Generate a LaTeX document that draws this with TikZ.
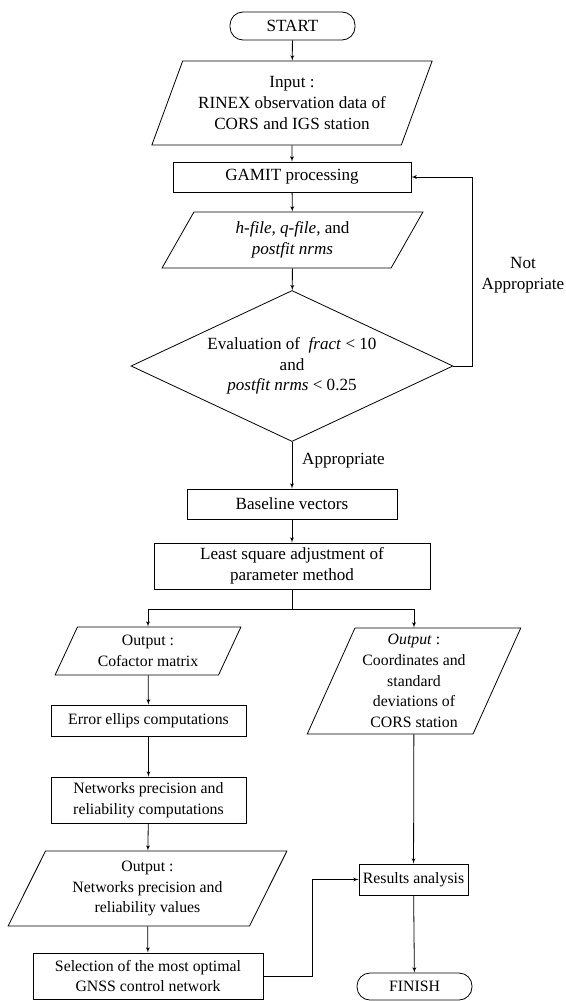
\documentclass[tikz,border=0pt]{standalone}
\usepackage{fontspec}
\setmainfont{Liberation Serif}
\usetikzlibrary{shapes,arrows}

\begin{document}
\begin{tikzpicture}[x=1pt, y=-1pt, auto,
    font=\fontsize{17.1}{20.7}\selectfont,
    text_small/.style ={font=\fontsize{15.8}{20.7}\selectfont},
    block_center/.style ={rectangle, draw=black, line width=0.8pt, fill=white,
      align=center, inner sep=2pt},
    block_io/.style ={trapezium, trapezium left angle=64, trapezium right angle=116,
      trapezium stretches=true, draw=black, line width=0.8pt, fill=white,
      align=center, inner sep=1pt},
    block_terminal/.style ={rectangle, rounded corners=13pt, draw=black,
      line width=0.8pt, fill=white, align=center, inner sep=2pt},
    block_decision/.style ={diamond, aspect=2.13, draw=black, line width=0.8pt,
      fill=white, align=center, inner sep=-4pt},
    block_noborder/.style ={rectangle, draw=none, fill=none, align=center, inner sep=0pt},
    line/.style ={draw, line width=0.8pt, -latex', shorten >=0pt}]
    \useasboundingbox (0,0) rectangle (565,1001);
    % main column
    \node [block_terminal, minimum width=125pt, minimum height=28pt] (start) at (292.5,26) {START};
    \node [block_io, minimum width=281pt, minimum height=84pt] (input) at (292,103)
      {Input :\\ RINEX observation data of\\ CORS and IGS station};
    \node [block_center, minimum width=238pt, minimum height=30pt] (gamit) at (292,177) {GAMIT processing};
    \node [block_io, minimum width=261pt, minimum height=56pt] (hfile) at (292.5,240)
      {\textit{h-file, q-file,} and\\ \textit{postfit nrms}};
    \node [block_decision, minimum width=322pt, minimum height=151pt] (eval) at (292,366)
      {Evaluation of \ \textit{fract} < 10\\ and\\ \textit{postfit nrms} < 0.25};
    \node [block_noborder] (notappropriate) at (523,275) {Not\\ Appropriate};
    \node [block_noborder, anchor=west] (appropriate) at (302,461) {Appropriate};
    \node [block_center, minimum width=210pt, minimum height=30pt] (baseline) at (292,504) {Baseline vectors};
    \node [block_center, minimum width=276pt, minimum height=46pt] (lsq) at (292,566)
      {Least square adjustment of\\ parameter method};
    \coordinate (split) at (292,609);
    % left column
    \node [block_io, text_small, minimum width=186pt, minimum height=48pt] (cofactor) at (148,651)
      {Output :\\ Cofactor matrix};
    \node [block_center, text_small, minimum width=195pt, minimum height=31pt] (ellips) at (148.5,720.5)
      {Error ellips computations};
    \node [block_center, text_small, minimum width=195pt, minimum height=46pt] (netcomp) at (148.5,800)
      {Networks precision and\\ reliability computations};
    \node [block_io, text_small, minimum width=279pt, minimum height=75pt] (netvalues) at (147.5,888.5)
      {Output :\\ Networks precision and\\ reliability values};
    \node [block_center, text_small, minimum width=230pt, minimum height=46pt] (selection) at (148,976)
      {Selection of the most optimal\\ GNSS control network};
    % right column
    \node [block_io, text_small, trapezium left angle=66, trapezium right angle=114,
      minimum width=214pt, minimum height=106pt] (coords) at (414,681)
      {\textit{Output} :\\ Coordinates and\\ standard\\ deviations of\\ CORS station};
    \node [block_center, text_small, minimum width=109pt, minimum height=31pt] (results) at (413.5,879.5)
      {Results analysis};
    \node [block_terminal, text_small, minimum width=115pt, minimum height=27pt] (finish) at (414.5,986.5) {FINISH};
    % connecting nodes with paths
    \begin{scope}[every path/.style=line]
      \path (start) -- (input);
      \path (input) -- (gamit);
      \path (gamit) -- (hfile);
      \path (hfile) -- (eval);
      \path (eval.east) -- ++(19,0) |- (gamit.east);
      \path (eval) -- (baseline);
      \path (baseline) -- (lsq);
      \path (split) -| (cofactor);
      \path (split) -| (coords);
      \path (cofactor) -- (ellips);
      \path (ellips) -- (netcomp);
      \path (netcomp) -- (netvalues);
      \path (netvalues) -- (selection);
      \path (selection.east) -- ++(49,0) |- (results.west);
      \path (coords) -- (results);
      \path (results) -- (finish);
    \end{scope}
    \draw [line width=0.8pt] (lsq) -- (split);
  \end{tikzpicture}
\end{document}
